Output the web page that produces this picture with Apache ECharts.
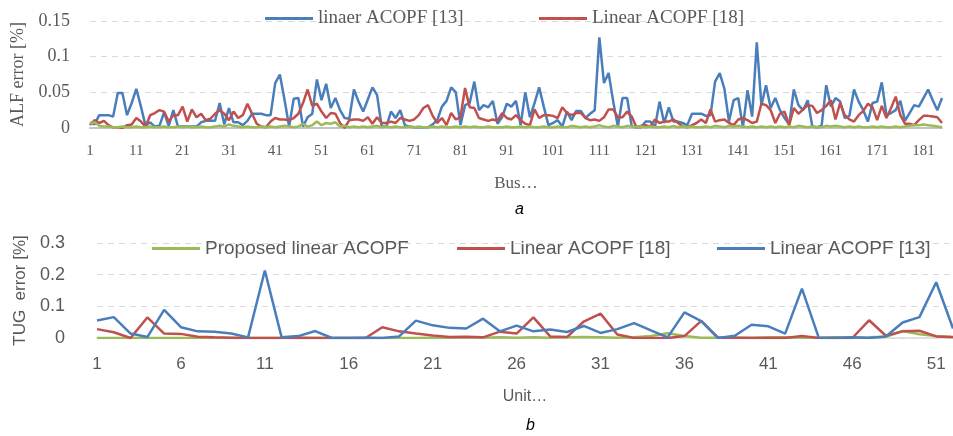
<!DOCTYPE html>
<html><head><meta charset="utf-8">
<script src="https://cdn.jsdelivr.net/npm/echarts@6/dist/echarts.min.js"></script>
<style>html,body{margin:0;padding:0;background:#fff}#c{width:953px;height:436px}</style>
</head><body><div id="c"></div>
<script>
// ---- Panel a: bus categories (1..185) ----
const busCategories = Array.from({length: 185}, (_, i) => String(i + 1));
const alfYTicks = [0, 0.05, 0.1, 0.15];

const alfLinear13 = [
0.008,0.005,0.018,0.018,0.018,0.016,0.049,0.049,0.018,0.035,
0.055,0.03,0.003,0.008,0.002,0.003,0.022,0.003,0.025,0.002,
0.002,0.002,0.002,0.002,0.008,0.01,0.01,0.01,0.035,0.005,
0.028,0.008,0.008,0.004,0.01,0.02,0.02,0.02,0.018,0.018,
0.063,0.075,0.04,0.002,0.041,0.042,0.002,0.015,0.02,0.068,
0.039,0.062,0.028,0.042,0.025,0.014,0.013,0.054,0.037,0.023,
0.04,0.057,0.046,0.002,0.002,0.023,0.014,0.025,0.004,0.002,
0.001,0.001,0.001,0.001,0.005,0.011,0.03,0.038,0.057,0.05,
0.004,0.032,0.035,0.065,0.025,0.032,0.029,0.038,0.006,0.015,
0.034,0.03,0.038,0.004,0.05,0.015,0.035,0.057,0.03,0.004,
0.007,0.011,0.002,0.023,0.011,0.024,0.024,0.014,0.02,0.025,
0.127,0.063,0.077,0.037,0.002,0.042,0.042,0.002,0.001,0.001,
0.009,0.009,0.001,0.037,0.007,0.029,0.009,0.009,0.007,0.004,
0.02,0.02,0.02,0.017,0.018,0.065,0.077,0.055,0.009,0.039,
0.042,0.001,0.053,0.016,0.12,0.032,0.06,0.028,0.042,0.025,
0.014,0.005,0.054,0.032,0.025,0.039,0.002,0.001,0.003,0.06,
0.03,0.042,0.037,0.014,0.017,0.054,0.037,0.025,0.009,0.035,
0.037,0.064,0.018,0.021,0.025,0.038,0.01,0.021,0.032,0.03,
0.042,0.054,0.039,0.025,0.042
];

const alfLinear18 = [
0.004,0.011,0.007,0.01,0.004,0.001,0.001,0,0.004,0.005,
0.014,0.009,0.002,0.018,0.021,0.025,0.023,0.009,0.018,0.018,
0.03,0.009,0.026,0.015,0.02,0.011,0.013,0.02,0.025,0.02,
0.011,0.023,0.014,0.018,0.034,0.02,0.006,0.002,0.001,0.009,
0.014,0.012,0.012,0.011,0.014,0.02,0.035,0.054,0.031,0.034,
0.023,0.014,0.021,0.02,0.007,0,0.011,0.012,0.012,0.01,
0.015,0.006,0.015,0.007,0.007,0.009,0.007,0.014,0.012,0.01,
0.012,0.018,0.028,0.032,0.017,0.007,0.014,0.004,0.021,0.012,
0.015,0.056,0.029,0.028,0.014,0.012,0.01,0.012,0.01,0.021,
0.014,0.012,0.018,0.011,0.006,0.004,0.026,0.014,0.018,0.018,
0.017,0.014,0.029,0.021,0.018,0.021,0.021,0.014,0.011,0.012,
0.01,0.015,0.026,0.026,0.015,0.015,0.023,0.016,0.001,0.003,
0.004,0.002,0.012,0.007,0.009,0.009,0.012,0.007,0.002,0.001,
0.004,0.007,0.012,0.007,0.026,0.009,0.011,0.012,0.007,0.004,
0.012,0.014,0.011,0.007,0.009,0.034,0.032,0.025,0.007,0.02,
0.023,0.004,0.028,0.02,0.026,0.032,0.031,0.021,0.025,0.031,
0.039,0.012,0.035,0.018,0.012,0.009,0.018,0.024,0.034,0.029,
0.011,0.031,0.014,0.028,0.044,0.018,0.006,0.006,0.004,0.011,
0.017,0.017,0.016,0.015,0.007
];

const alfProposed = [
0.006,0.008,0.003,0.002,0.002,0.001,0.001,0.002,0.001,0.001,
0.002,0.001,0.001,0.002,0.001,0.001,0.002,0.001,0.001,0.002,
0.001,0.002,0.001,0.001,0.002,0.001,0.001,0.002,0.003,0.002,
0.005,0.003,0.002,0.001,0.002,0.001,0.001,0.002,0.001,0.002,
0.001,0.002,0.003,0.002,0.001,0.002,0.006,0.002,0.004,0.009,
0.004,0.007,0.006,0.008,0.002,0.003,0.001,0.002,0.001,0.002,
0.001,0.002,0.003,0.001,0.002,0.001,0.002,0.001,0.001,0.002,
0.001,0.002,0.001,0.001,0.002,0.001,0.002,0.001,0.001,0.002,
0.001,0.002,0.001,0.002,0.001,0.001,0.002,0.001,0.001,0.001,
0.002,0.001,0.001,0.002,0.001,0.002,0.001,0.001,0.002,0.001,
0.001,0.002,0.001,0.001,0.003,0.002,0.001,0.002,0.001,0.002,
0.004,0.002,0.001,0.003,0.002,0.001,0.003,0.002,0.001,0.002,
0.001,0.002,0.001,0.001,0.002,0.001,0.003,0.001,0.002,0.001,
0.002,0.001,0.001,0.002,0.001,0.003,0.002,0.001,0.003,0.002,
0.003,0.002,0.001,0.002,0.001,0.002,0.001,0.002,0.001,0.002,
0.001,0.002,0.001,0.003,0.002,0.001,0.002,0.001,0.001,0.003,
0.002,0.003,0.002,0.001,0.002,0.001,0.002,0.001,0.001,0.002,
0.001,0.002,0.001,0.001,0.002,0.001,0.002,0.003,0.004,0.004,
0.005,0.004,0.003,0.002,0.001
];

// ---- Panel b: units 1..52 ----
const unitCategories = Array.from({length: 52}, (_, i) => String(i + 1));
const tugYTicks = [0, 0.1, 0.2, 0.3];

const tugProposed = [
0,0,0,0,0,0,0,0,0,0,
0,0,0,0,0,0,0,0,0,0,
0.001,0.001,0.002,0.001,0.002,0.001,0.002,0.001,0.002,0.003,
0.002,0.001,0.002,0.006,0.015,0.006,0.001,0.001,0.001,0.001,
0.002,0.002,0.001,0.001,0.002,0.001,0.002,0.004,0.022,0.012,
0.006,0.002
];
const tugLinear18 = [
0.028,0.018,0,0.065,0.014,0.013,0.004,0.002,0.001,0,
0,0,0.001,0,0,0,0,0.034,0.021,0.014,
0.008,0.003,0.004,0.002,0.02,0.014,0.065,0.005,0.003,0.052,
0.077,0.011,0,0,0,0.006,0.054,0.001,0.001,0,
0,0,0.006,0,0,0,0.056,0.007,0.021,0.023,
0.005,0.003
];
const tugLinear13 = [
0.055,0.066,0.014,0.003,0.089,0.034,0.021,0.02,0.014,0.002,
0.213,0.002,0.006,0.022,0,0,0.001,0,0.005,0.055,
0.04,0.032,0.03,0.061,0.021,0.039,0.021,0.027,0.019,0.038,
0.016,0.028,0.047,0.024,0.002,0.081,0.053,0,0.007,0.042,
0.037,0.014,0.156,0.001,0,0.002,0,0.005,0.049,0.066,
0.176,0.03
];

const BLUE = '#4a7ebb', RED = '#c0504d', GREEN = '#9bbb59', TXT = '#595959';
const SERIF = '"Liberation Serif", "DejaVu Serif", serif';
const SANS = '"Liberation Sans", Arial, sans-serif';

const chart = echarts.init(document.getElementById('c'), null, {renderer: 'canvas'});

function legendItem(name, left, top, font, size) {
  return {
    data: [name], left: left, top: top, padding: 0, icon: 'rect',
    itemWidth: 48, itemHeight: 3, itemGap: 0, selectedMode: false,
    textStyle: {color: TXT, fontFamily: font, fontSize: size, padding: [0, 0, 0, 0]}
  };
}

const gridLine = {show: true, lineStyle: {color: '#d9d9d9', type: [6, 5], width: 1}};

const option = {
  animation: false,
  backgroundColor: '#fff',
  title: [
    {text: 'a', left: 510, top: 197, textStyle: {fontFamily: SANS, fontStyle: 'italic', fontWeight: 'normal', fontSize: 16, color: '#000'}},
    {text: 'b', left: 521, top: 413, textStyle: {fontFamily: SANS, fontStyle: 'italic', fontWeight: 'normal', fontSize: 16, color: '#000'}}
  ],
  legend: [
    legendItem('linaer ACOPF [13]', 265, 9, SERIF, 19),
    legendItem('Linear ACOPF [18]', 539, 9, SERIF, 19),
    legendItem('Proposed linear ACOPF', 152, 239, SANS, 19),
    legendItem('Linear ACOPF [18] ', 457, 239, SANS, 19),
    legendItem('Linear ACOPF [13]', 717, 239, SANS, 19)
  ],
  grid: [
    {left: 90, right: 11, top: 21, bottom: 308},
    {left: 97, right: -4, top: 243, bottom: 98}
  ],
  xAxis: [
    {
      type: 'category', gridIndex: 0, data: busCategories, boundaryGap: false,
      name: 'Bus\u2026', nameLocation: 'middle', nameGap: 47,
      nameTextStyle: {fontFamily: SERIF, fontSize: 17, color: TXT},
      axisLine: {show: true, lineStyle: {color: '#c4c4c4', width: 2}},
      axisTick: {show: false},
      axisLabel: {interval: 9, margin: 16, fontFamily: SERIF, fontSize: 15, color: TXT},
      splitLine: {show: false}
    },
    {
      type: 'category', gridIndex: 1, data: unitCategories, boundaryGap: false,
      name: 'Unit\u2026', nameLocation: 'middle', nameGap: 51,
      nameTextStyle: {fontFamily: SANS, fontSize: 16, color: TXT},
      axisLine: {show: true, lineStyle: {color: '#d9d9d9', width: 1.5}},
      axisTick: {show: false},
      axisLabel: {interval: 4, margin: 18, fontFamily: SANS, fontSize: 17, color: TXT},
      splitLine: {show: false}
    }
  ],
  yAxis: [
    {
      type: 'value', gridIndex: 0, min: alfYTicks[0], max: alfYTicks[alfYTicks.length - 1], interval: 0.05,
      name: 'ALF error [%]', nameLocation: 'middle', nameGap: 60, nameRotate: 90,
      nameTextStyle: {fontFamily: SERIF, fontSize: 18, color: TXT},
      axisLine: {show: false}, axisTick: {show: false},
      axisLabel: {margin: 20, fontFamily: SERIF, fontSize: 18, color: TXT},
      splitLine: gridLine
    },
    {
      type: 'value', gridIndex: 1, min: tugYTicks[0], max: tugYTicks[tugYTicks.length - 1], interval: 0.1,
      name: 'TUG  error [%]', nameLocation: 'middle', nameGap: 66, nameRotate: 90,
      nameTextStyle: {fontFamily: SANS, fontSize: 17, color: TXT},
      axisLine: {show: false}, axisTick: {show: false},
      axisLabel: {margin: 32, fontFamily: SANS, fontSize: 18, color: TXT},
      splitLine: gridLine
    }
  ],
  series: [
    {name: 'linaer ACOPF [13]', type: 'line', xAxisIndex: 0, yAxisIndex: 0, data: alfLinear13, symbol: 'none', lineStyle: {color: BLUE, width: 2.5}, itemStyle: {color: BLUE}},
    {name: 'Linear ACOPF [18]', type: 'line', xAxisIndex: 0, yAxisIndex: 0, data: alfLinear18, symbol: 'none', lineStyle: {color: RED, width: 2.5}, itemStyle: {color: RED}},
    {name: 'Proposed (a)', type: 'line', xAxisIndex: 0, yAxisIndex: 0, data: alfProposed, symbol: 'none', lineStyle: {color: GREEN, width: 2.5}, itemStyle: {color: GREEN}},
    {name: 'Proposed linear ACOPF', type: 'line', xAxisIndex: 1, yAxisIndex: 1, data: tugProposed, symbol: 'none', lineStyle: {color: GREEN, width: 2.5}, itemStyle: {color: GREEN}},
    {name: 'Linear ACOPF [18] ', type: 'line', xAxisIndex: 1, yAxisIndex: 1, data: tugLinear18, symbol: 'none', lineStyle: {color: RED, width: 2.5}, itemStyle: {color: RED}},
    {name: 'Linear ACOPF [13]', type: 'line', xAxisIndex: 1, yAxisIndex: 1, data: tugLinear13, symbol: 'none', lineStyle: {color: BLUE, width: 2.5}, itemStyle: {color: BLUE}}
  ]
};
chart.setOption(option);
</script>
</body></html>
